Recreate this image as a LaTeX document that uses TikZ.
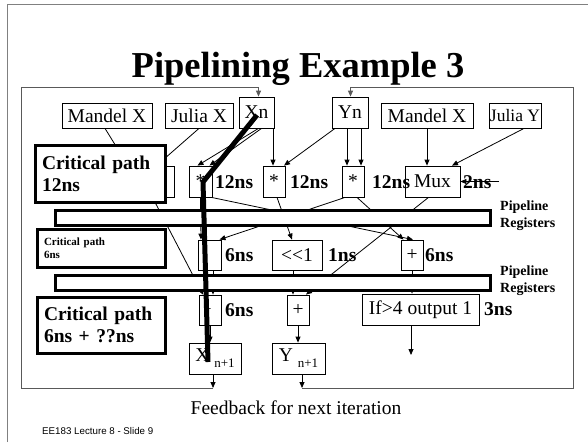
\documentclass[tikz,border=0pt]{standalone}
\usepackage{fontspec}
\newfontfamily\tnr{Liberation Serif}
\newfontfamily\arialf{Liberation Sans}
\usetikzlibrary{arrows.meta,calc}
\begin{document}
\begin{tikzpicture}[x=1pt,y=-1pt,
  op/.style={draw, fill=white, line width=0.8pt, inner sep=0pt,
    font=\tnr\fontsize{19.5}{21}\selectfont},
  reg/.style={draw, fill=white, line width=3pt, inner sep=0pt,
    minimum width=435pt, minimum height=15pt},
  cp/.style={draw, fill=white, line width=3pt, inner xsep=7pt, inner ysep=0pt,
    align=left, font=\tnr\bfseries\fontsize{19.5}{22}\selectfont},
  ns/.style={anchor=west, inner sep=0pt,
    font=\tnr\bfseries\fontsize{19.5}{21}\selectfont},
  plab/.style={anchor=base west, inner sep=0pt,
    font=\tnr\bfseries\fontsize{14}{16}\selectfont},
  conn/.style={line width=0.8pt, -{Triangle[length=6pt,width=5pt]}},
  fb/.style={line width=1pt, draw=black!65},
]
\useasboundingbox (0,0) rectangle (588,442);

% slide frame and title
\draw[black!50, line width=1pt] (7,442) -- (7,4) -- (588,4);
\node[font=\tnr\bfseries\fontsize{36.5}{40}\selectfont, anchor=base, inner sep=0pt]
  (title) at (298,77) {Pipelining Example 3};

% inputs
\node[op, minimum width=90pt, minimum height=25pt] (mandl) at (107,115.5) {Mandel X};
\node[op, minimum width=68pt, minimum height=25pt] (julx) at (199,115.5) {Julia X};
\node[op, minimum width=35pt, minimum height=31pt] (xn) at (256.5,112.5) {Xn};
\node[op, minimum width=36pt, minimum height=31pt] (yn) at (350,112.5) {Yn};
\node[op, minimum width=92pt, minimum height=25pt] (mandr) at (427,115.5) {Mandel X};
\node[op, minimum width=52pt, minimum height=25pt, font=\tnr\fontsize{17.5}{20}\selectfont]
  (july) at (515,115.5) {Julia Y};

% stage 1
\node[op, minimum width=55pt, minimum height=31pt] (muxL) at (146.5,181.5) {};
\node[op, minimum width=23pt, minimum height=31pt] (mul1) at (200.5,181.5) {*};
\node[op, minimum width=22pt, minimum height=31pt] (mul2) at (274,181.5) {*};
\node[op, minimum width=22pt, minimum height=31pt] (mul3) at (353,181.5) {*};
\node[op, minimum width=55pt, minimum height=31pt] (muxR) at (432.5,181.5) {Mux};

% stage 2
\node[op, minimum width=23pt, minimum height=30pt] (boxA) at (209.5,255) {};
\node[op, minimum width=50pt, minimum height=30pt] (shl) at (297,255) {<<1};
\node[op, minimum width=22pt, minimum height=30pt] (add2) at (412,255) {+};

% stage 3
\node[op, minimum width=22pt, minimum height=30pt] (sub3) at (210,310) {};
\node[op, minimum width=22pt, minimum height=30pt] (add3) at (298,310) {+};
\node[op, minimum width=117pt, minimum height=31pt] (iff) at (420.5,309.5) {If>4 output 1};

% results
\node[op, minimum width=52pt, minimum height=31pt] (xn1) at (215,358.5)
  {X\hspace{5pt}\raisebox{-6pt}{\fontsize{13}{13}\selectfont n+1}};
\node[op, minimum width=53pt, minimum height=31pt] (yn1) at (298.5,358.5)
  {Y\hspace{5pt}\raisebox{-6pt}{\fontsize{13}{13}\selectfont n+1}};

% timing labels
\node[ns] (t1) at (215,182) {12ns};
\node[ns] (t2) at (290,182) {12ns};
\node[ns] (t3) at (372,182) {12ns};
\node[ns] (t4) at (463,182) {2ns};
\node[ns] (t5) at (225,255) {6ns};
\node[ns] (t6) at (328,255) {1ns};
\node[ns] (t7) at (425,255) {6ns};
\node[ns] (t8) at (225,310) {6ns};
\node[ns] (t9) at (484,309) {3ns};
\node[font=\tnr\fontsize{14}{14}\selectfont, inner sep=0pt] (subsign) at (207.5,309.5) {+};

% inputs to stage 1
\draw[conn] ([xshift=-2pt]mandl.south) -- ([xshift=-18.5pt]muxL.north);
\draw[conn] (julx.south) -- ([xshift=10pt]muxL.north);
\draw[conn] ([xshift=2pt]xn.south) -- ([xshift=-3pt]mul1.north);
\draw[conn] ([xshift=5pt]xn.south) -- ([xshift=9pt]mul1.north);
\draw[conn] ([xshift=16.5pt]xn.south) -- ([xshift=-1pt]mul2.north);
\draw[conn] ([xshift=-15pt]yn.south) -- ([xshift=10pt]mul2.north);
\draw[conn] ([xshift=-3pt]yn.south) -- ([xshift=-6pt]mul3.north);
\draw[conn] ([xshift=11pt]yn.south) -- ([xshift=8pt]mul3.north);
\draw[conn] (mandr.south) -- ([xshift=-5.5pt]muxR.north);
\draw[conn] ([xshift=9pt]july.south) -- ([xshift=19.5pt]muxR.north);
\coordinate (twoin) at (499,181.5);
\draw[conn] (twoin) -- (muxR.east);

% stage 1 to later stages
\draw[conn] ([xshift=6pt]muxL.south) -- ([xshift=-7pt]sub3.north);
\draw[conn] (mul1.south) -- ([xshift=-8.5pt]boxA.north);
\draw[conn] ([xshift=11pt]mul1.south) -- ([xshift=1pt]add2.north);
\draw[conn] ([xshift=3pt]mul2.south) -- ([xshift=-5pt]shl.north);
\draw[conn] ([xshift=-8pt]mul3.south) -- ([xshift=10pt]boxA.north);
\draw[conn] ([xshift=4pt]mul3.south) -- ([xshift=-8.5pt]add2.north);
\draw[conn] ([xshift=-4pt]muxR.south) -- ([xshift=8pt]add3.north);

% stage 2 to stage 3
\draw[conn] ([xshift=3.5pt]boxA.south) -- ([xshift=3pt]sub3.north);
\draw[conn] ([xshift=-4pt]shl.south) -- ([xshift=-5pt]add3.north);
\draw[conn] (add2.south) -- ([xshift=-8.5pt]iff.north);

% stage 3 to results
\draw[conn] (sub3.south) -- ([xshift=-5pt]xn1.north);
\draw[conn] (add3.south) -- ([xshift=-0.5pt]yn1.north);
\coordinate (ifout) at (411,355);
\draw[conn] ([xshift=-9.5pt]iff.south) -- (ifout);

% feedback loops
\coordinate (fbx) at (213,388);
\coordinate (fby) at (302,388);
\draw[conn] ([xshift=-2pt]xn1.south) -- (fbx);
\draw[conn] ([xshift=3.5pt]yn1.south) -- (fby);
\draw[fb, -{Triangle[length=6pt,width=5pt]}] (fbx) -- (21,388) -- (21,87) -| ([xshift=2pt]xn.north);
\draw[fb, -{Triangle[length=6pt,width=5pt]}] (fby) -- (573,388) -- (573,87) -| ([xshift=0.5pt]yn.north);

% pipeline registers
\node[reg] (reg1) at (272.5,217.5) {};
\node[reg] (reg2) at (272.5,282.5) {};
\node[plab] (p1a) at (500,210) {Pipeline};
\node[plab] (p1b) at (500,227) {Registers};
\node[plab] (p2a) at (500,275) {Pipeline};
\node[plab] (p2b) at (500,292) {Registers};

% critical path notes
\node[cp, text width=116pt, minimum height=57pt] (cp1) at (100,173.5) {Critical path\\12ns};
\node[cp, text width=114pt, minimum height=38pt, font=\tnr\bfseries\fontsize{11}{13.5}\selectfont]
  (cp2) at (101,248) {Critical path\\6ns};
\node[cp, text width=114pt, minimum height=56pt] (cp3) at (101,325) {Critical path\\6ns + ??ns};

% highlighted critical path
\coordinate (cpa) at (257,115);
\coordinate (cpb) at (203,182);
\coordinate (cpc) at (208,362);
\draw[line width=5pt, line join=miter] (cpa) -- (cpb) -- (cpc);

% captions
\node[font=\tnr\fontsize{19.5}{21}\selectfont, inner sep=0pt] (fbtext) at (296,408) {Feedback for next iteration};
\node[font=\arialf\fontsize{9.75}{11}\selectfont, anchor=west, inner sep=0pt] (footer) at (42,431) {EE183 Lecture 8 - Slide 9};
\end{tikzpicture}
\end{document}
